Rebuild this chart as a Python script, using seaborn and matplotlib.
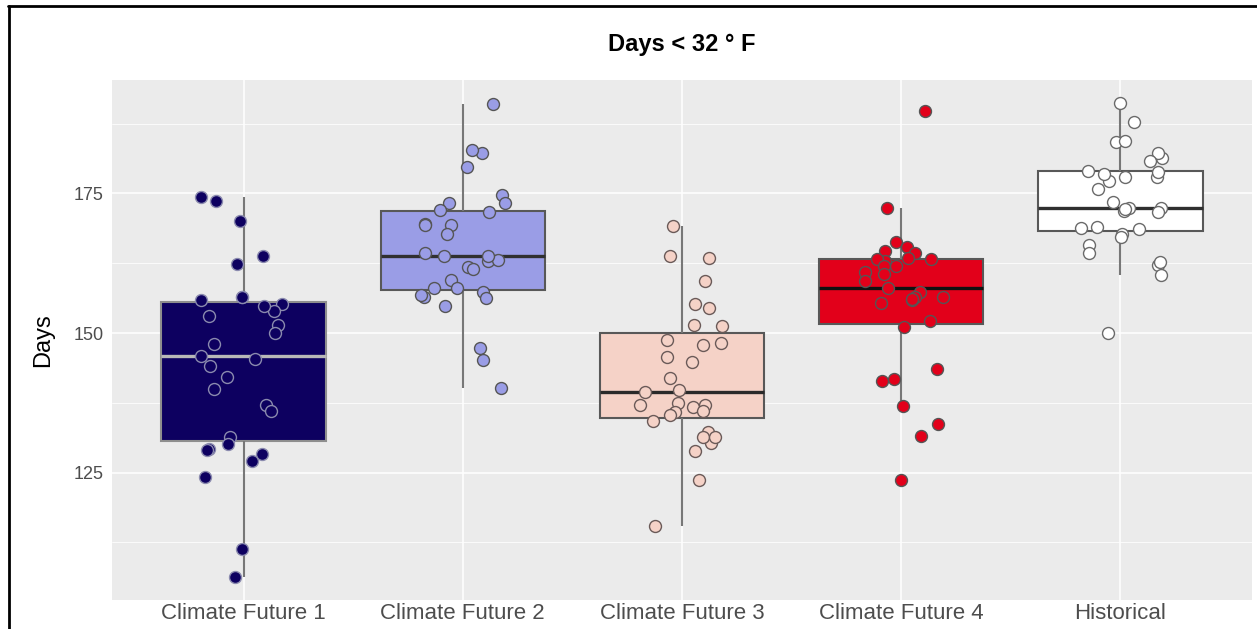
import numpy as np
import pandas as pd
import matplotlib
matplotlib.use("Agg")
import matplotlib.pyplot as plt
import seaborn as sns
from matplotlib.lines import Line2D

# Scenario names, in plotting order
categories = ["Climate Future 1", "Climate Future 2", "Climate Future 3",
              "Climate Future 4", "Historical"]

# Annual count of days below freezing, one value per model run
cf1_days = [173.7, 174.3, 170.0, 163.7, 162.3, 156.5, 156.0, 156.5, 155.2, 153.9,
            154.8, 153.0, 151.5, 150.0, 148.1, 145.3, 145.9, 144.1, 142.2, 140.0,
            137.1, 136.0, 131.3, 130.1, 129.2, 129.0, 128.4, 127.1, 124.2, 111.3,
            106.4]
cf2_days = [191.0, 182.3, 182.7, 179.7, 174.7, 173.3, 173.3, 172.0, 171.7, 169.6,
            169.3, 169.3, 167.8, 164.4, 163.7, 162.9, 163.1, 163.8, 161.9, 161.4,
            159.5, 158.1, 158.1, 157.4, 156.4, 156.8, 156.2, 154.8, 147.4, 145.2,
            140.1]
cf3_days = [169.2, 163.8, 163.4, 159.3, 155.2, 154.4, 151.4, 151.3, 148.7, 147.9,
            148.2, 145.7, 144.8, 141.9, 139.8, 139.4, 137.2, 137.2, 137.4, 136.8,
            136.1, 135.9, 135.3, 134.3, 132.2, 130.3, 131.4, 131.3, 128.9, 123.6,
            115.5]
cf4_days = [189.8, 172.4, 166.3, 164.7, 165.4, 164.4, 163.4, 162.9, 163.2, 163.3,
            162.0, 162.0, 161.0, 160.5, 159.3, 158.0, 157.3, 156.4, 156.0, 155.3,
            156.4, 156.1, 152.2, 151.0, 143.5, 141.7, 141.4, 136.9, 133.8, 131.6,
            123.6]
hist_days = [191.1, 187.8, 184.2, 184.4, 181.3, 182.2, 180.8, 179.0, 178.0, 177.3,
             177.9, 178.4, 178.9, 175.8, 173.4, 172.4, 172.4, 171.7, 171.8, 169.0,
             168.6, 167.8, 167.2, 165.7, 164.3, 162.2, 162.8, 160.3, 150.0, 168.8,
             172.2]

y_ticks = [125, 150, 175]

series = [cf1_days, cf2_days, cf3_days, cf4_days, hist_days]
df = pd.DataFrame({
    "scenario": np.repeat(categories, [len(s) for s in series]),
    "days": np.concatenate(series),
})

# Per-scenario styling
fills = ["#0D0060", "#9A9DE6", "#F5D2C7", "#E2001A", "#FFFFFF"]
edges = ["#8E8E8E", "#585858", "#585858", "#585858", "#585858"]
medians = ["#B8B8B8", "#303030", "#2A2A2A", "#111111", "#303030"]
point_edges = ["#8A8AAE", "#555555", "#6A5A58", "#555555", "#6A6A6A"]

sns.set_theme(style="darkgrid")
plt.rcParams["font.family"] = ["Liberation Sans", "DejaVu Sans"]

fig = plt.figure(figsize=(12.57, 6.29), dpi=100)
ax = fig.add_axes([112 / 1257, 1 - 600 / 629, (1252 - 112) / 1257, (600 - 80) / 629])
ax.set_facecolor("#EBEBEB")

np.random.seed(11)
for i, cat in enumerate(categories):
    sub = df[df["scenario"] == cat]
    sns.boxplot(data=sub, x="scenario", y="days", order=categories,
                color=fills[i], linecolor=edges[i], linewidth=1.5,
                width=0.75, saturation=1, showfliers=False,
                whiskerprops=dict(color="#777777", linewidth=1.5),
                capprops=dict(linewidth=0),
                medianprops=dict(color=medians[i], linewidth=2.4),
                ax=ax, zorder=2)
    sns.stripplot(data=sub, x="scenario", y="days", order=categories,
                  color=fills[i], edgecolor=point_edges[i], linewidth=1.0,
                  size=8.6, jitter=0.2, ax=ax, zorder=3)

ax.set_xlim(-0.6, 4.6)
ax.set_ylim(102.2, 195.3)
ax.set_yticks(y_ticks)
ax.set_yticks([112.5, 137.5, 162.5, 187.5], minor=True)
ax.grid(which="major", color="white", linewidth=1.1)
ax.grid(which="minor", axis="y", color="white", linewidth=0.55)
ax.set_axisbelow(True)
for sp in ax.spines.values():
    sp.set_visible(False)

ax.tick_params(axis="both", which="major", width=1, color="#333333",
               labelcolor="#4D4D4D")
ax.tick_params(axis="x", labelsize=16, length=2, pad=0.5)
ax.tick_params(axis="y", labelsize=13, length=4, pad=2)
ax.tick_params(which="minor", length=0)
ax.set_xlabel("")
ax.set_ylabel("Days", fontsize=17, color="black", labelpad=14)

fig.text(682 / 1257, 1 - 44 / 629, "Days < 32 \u00b0 F", ha="center", va="center",
         fontsize=17, fontweight="bold", color="black")

# Outer frame on the top and left edges
fig.add_artist(Line2D([8 / 1257, 1], [1 - 6 / 629, 1 - 6 / 629],
                      transform=fig.transFigure, color="black", linewidth=2))
fig.add_artist(Line2D([9 / 1257, 9 / 1257], [0, 1 - 6 / 629],
                      transform=fig.transFigure, color="black", linewidth=2))

fig.savefig("out.png", dpi=100, facecolor="white")
